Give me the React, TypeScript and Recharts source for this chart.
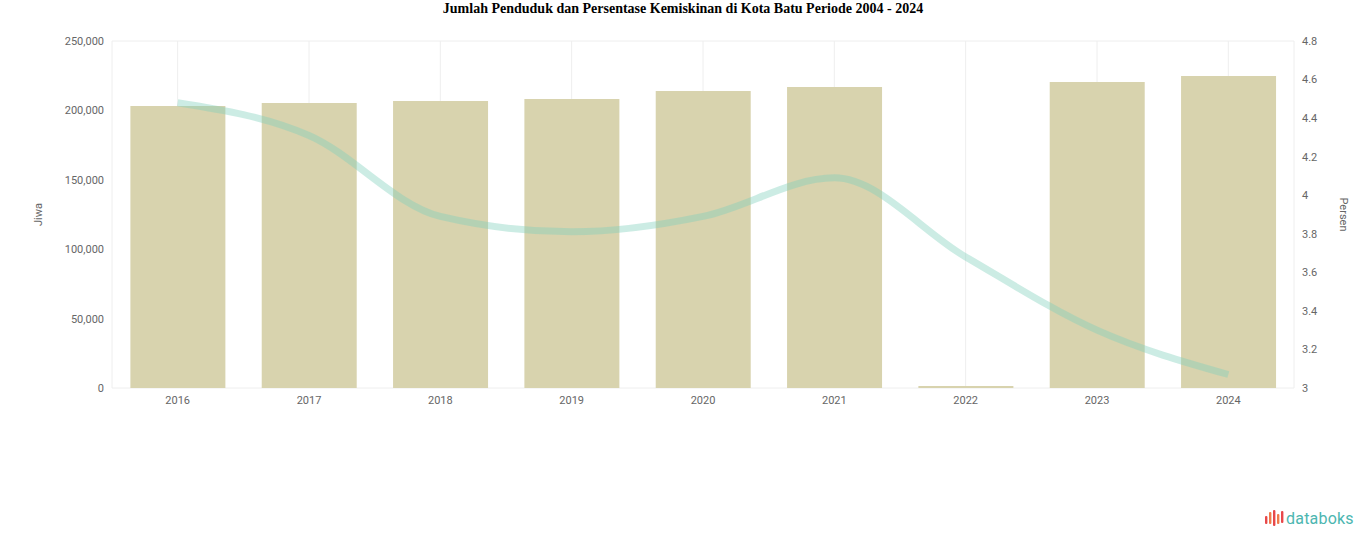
import { Bar, CartesianGrid, ComposedChart, Line, XAxis, YAxis } from 'recharts'

const years = ['2016', '2017', '2018', '2019', '2020', '2021', '2022', '2023', '2024']
const penduduk = [203200, 205300, 206800, 208200, 214000, 216900, 0, 220500, 224800]
const kemiskinan = [4.48, 4.31, 3.89, 3.81, 3.89, 4.09, 3.68, 3.3, 3.07]
const leftTicks = [0, 50000, 100000, 150000, 200000, 250000]
const rightTicks = [3, 3.2, 3.4, 3.6, 3.8, 4, 4.2, 4.4, 4.6, 4.8]

const data = years.map((y, i) => ({ year: y, jiwa: penduduk[i], persen: kemiskinan[i] }))

const tick = { fontSize: 11, fill: '#666', fontFamily: 'Roboto, sans-serif' }

function Logo() {
  const bars = [
    [0, 6, 8],
    [4, 2, 12],
    [8, 0, 16],
    [12, 4, 10],
    [16, 1, 12],
  ]
  return (
    <div style={{ position: 'absolute', left: 1265, top: 508, display: 'flex', alignItems: 'center' }}>
      <svg width={20} height={20} viewBox="0 0 20 20">
        {bars.map(([x, y, h], i) => (
          <rect key={i} x={x} y={y + 2} width={2.4} height={h} rx={1} fill={i % 2 ? '#f07a4a' : '#e8484a'} />
        ))}
      </svg>
      <span style={{ fontFamily: 'Roboto, sans-serif', fontSize: 16, color: '#4cb6b0', marginLeft: 1, letterSpacing: 0.2 }}>databoks</span>
    </div>
  )
}

export default function App() {
  return (
    <div style={{ position: 'absolute', left: 0, top: 0, width: 1366, height: 547, background: '#fff' }}>
      <div
        style={{
          position: 'absolute',
          top: 1,
          width: 1366,
          textAlign: 'center',
          fontFamily: '"Liberation Serif", "Times New Roman", serif',
          fontWeight: 700,
          fontSize: 14,
          color: '#000',
        }}
      >
        Jumlah Penduduk dan Persentase Kemiskinan di Kota Batu Periode 2004 - 2024
      </div>
      <ComposedChart
        width={1366}
        height={547}
        data={data}
        margin={{ top: 41, right: 22, left: 52, bottom: 129 }}
        barCategoryGap="14%"
      >
        <CartesianGrid stroke="#eeeeee" strokeWidth={1} />
        <XAxis dataKey="year" axisLine={false} tickLine={false} tick={tick} tickMargin={2} height={30} />
        <YAxis
          yAxisId="left"
          domain={[0, 250000]}
          ticks={leftTicks}
          axisLine={false}
          tickLine={false}
          tick={tick}
          width={60}
          tickFormatter={(v: number) => v.toLocaleString('en-US')}
          label={{ value: 'Jiwa', angle: -90, position: 'insideLeft', offset: -14, style: { ...tick, textAnchor: 'middle' } }}
        />
        <YAxis
          yAxisId="right"
          orientation="right"
          domain={[3, 4.8]}
          ticks={rightTicks}
          axisLine={false}
          tickLine={false}
          tick={{ ...tick, textAnchor: 'start' }}
          width={50}
          tickFormatter={(v: number) => String(Math.round(v * 10) / 10)}
          label={{ value: 'Persen', angle: 90, position: 'insideRight', offset: 0, style: { ...tick, textAnchor: 'middle' } }}
        />
        <Bar yAxisId="left" dataKey="jiwa" fill="#d8d3ae" minPointSize={2} isAnimationActive={false} />
        <Line
          yAxisId="right"
          dataKey="persen"
          type="monotone"
          stroke="#7fd0bb"
          strokeOpacity={0.4}
          strokeWidth={7}
          dot={false}
          activeDot={false}
          isAnimationActive={false}
        />
      </ComposedChart>
      <Logo />
    </div>
  )
}
